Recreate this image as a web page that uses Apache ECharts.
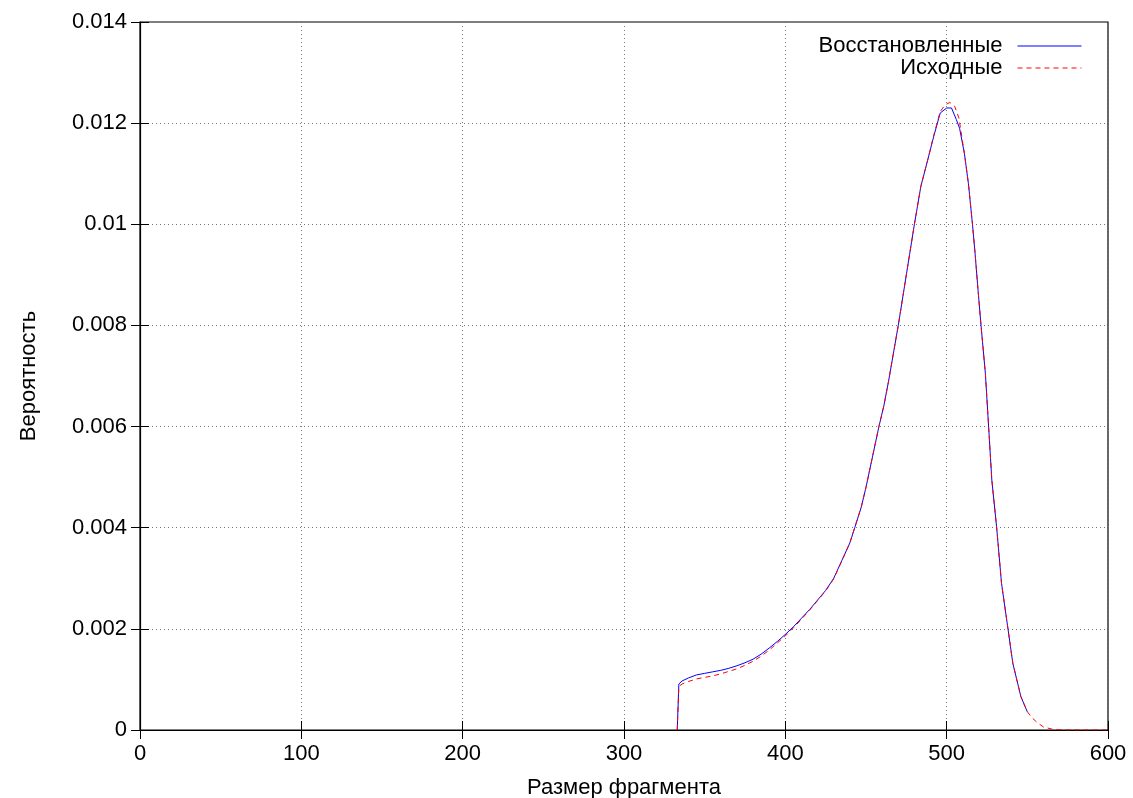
<!DOCTYPE html>
<html><head><meta charset="utf-8">
<script src="https://cdn.jsdelivr.net/npm/echarts@6/dist/echarts.min.js"></script>
<style>html,body{margin:0;padding:0;background:#fff}#c{width:1133px;height:798px}</style>
</head><body><div id="c"></div>
<script>
var seriesNames = ['Восстановленные', 'Исходные'];
var restoredX = [333,334,336,340,345,350,355,360,365,370,375,380,385,390,395,400,405,410,415,420,425,430,435,440,443,447,450,454,458,461,464,467,470,473,477,480,484,488,492,496,500,503,506,508,511,513.5,516,517.6,519.6,521.3,524,526,528,531,534,538,541,546,550];
var restoredY = [0,0.00091,0.00097,0.00103,0.00109,0.00112,0.00115,0.00118,0.00122,0.00127,0.00133,0.00140,0.00150,0.00162,0.00175,0.00189,0.00204,0.00221,0.00238,0.00257,0.00276,0.00300,0.00335,0.0037,0.0040,0.0044,0.0048,0.0054,0.0060,0.0064,0.0069,0.00745,0.0080,0.0086,0.0094,0.0100,0.01075,0.01124,0.01174,0.0122,0.0123,0.0123,0.01207,0.0119,0.0114,0.0108,0.0100,0.00943,0.00864,0.0080,0.00705,0.0060,0.00494,0.0040,0.0029,0.0020,0.00132,0.00066,0.00036];
var originalX = [333,334,336,340,345,350,355,360,365,370,375,380,385,390,395,400,405,410,415,420,425,430,435,440,443,447,450,454,458,461,464,467,470,473,477,480,484,488,492,496,499,502,505,507.6,511,513.5,516,517.6,519.6,521.3,524,526,528,531,534,538,541,546,550,553,556,560,565,570,575,600];
var originalY = [0,0.00086,0.00091,0.00096,0.00101,0.00104,0.00107,0.00111,0.00116,0.00121,0.00128,0.00136,0.00146,0.00158,0.00172,0.00186,0.00202,0.00219,0.00237,0.00256,0.00275,0.00299,0.00334,0.0037,0.0040,0.0044,0.0048,0.0054,0.0060,0.0064,0.0069,0.00745,0.0080,0.0086,0.0094,0.0100,0.01075,0.01124,0.01176,0.01223,0.01236,0.01241,0.01233,0.0121,0.0114,0.0108,0.0100,0.00943,0.00864,0.0080,0.00705,0.0060,0.00494,0.0040,0.0029,0.0020,0.00132,0.00066,0.00036,0.00024,0.00015,0.00006,0.00002,0.000005,0,0];
var xName = 'Размер фрагмента';
var yName = 'Вероятность';

function pairs(xs, ys){ return xs.map(function(x,i){ return [x, ys[i]]; }); }
var FONT = 'Liberation Sans';
var fs = 22;
var chart = echarts.init(document.getElementById('c'), null, {renderer:'canvas'});
var gridLine = {show:true, lineStyle:{color:'#777', type:[1,3], width:1}};
var tick = {show:true, inside:true, length:9, lineStyle:{color:'#000'}};
chart.setOption({
  animation:false,
  textStyle:{fontFamily:FONT},
  grid:{left:140, top:22, right:25, bottom:68, containLabel:false, outerBoundsMode:'none',
    show:true, borderColor:'#000', borderWidth:1.2, backgroundColor:'transparent'},
  legend:{
    show:true, data:seriesNames, orient:'vertical',
    left:'auto', right:51, top:35, bottom:'auto',
    align:'right', padding:0,
    itemWidth:64, itemHeight:12, itemGap:0,
    itemStyle:{opacity:0},
    lineStyle:{width:1},
    textStyle:{fontFamily:FONT, fontSize:fs, color:'#000', lineHeight:22, padding:[0,10,0,0]}
  },
  xAxis:[{
    type:'value', min:0, max:600, interval:100,
    name:xName, nameLocation:'middle', nameGap:47,
    nameTextStyle:{fontFamily:FONT, fontSize:fs, color:'#000'},
    axisLine:{show:true, onZero:false, lineStyle:{color:'#000', width:1.2}},
    axisTick:tick, splitLine:gridLine,
    axisLabel:{fontFamily:FONT, fontSize:fs, color:'#000', margin:13}
  },{
    type:'value', min:0, max:600, interval:100, position:'top',
    axisLine:{show:false}, axisTick:tick, axisLabel:{show:false}, splitLine:{show:false}
  }],
  yAxis:[{
    type:'value', min:0, max:0.014, interval:0.002,
    name:yName, nameLocation:'middle', nameGap:100, nameRotate:90,
    nameTextStyle:{fontFamily:FONT, fontSize:fs, color:'#000'},
    axisLine:{show:true, onZero:false, lineStyle:{color:'#000', width:1.2}},
    axisTick:tick, splitLine:gridLine,
    axisLabel:{fontFamily:FONT, fontSize:fs, color:'#000', margin:13,
      formatter:function(v){ return String(+v.toFixed(6)); }}
  },{
    type:'value', min:0, max:0.014, interval:0.002, position:'right',
    axisLine:{show:false}, axisTick:tick, axisLabel:{show:false}, splitLine:{show:false}
  }],
  series:[{
    name:seriesNames[0], type:'line', data:pairs(restoredX, restoredY),
    symbol:'none', showSymbol:false, smooth:false, z:3,
    lineStyle:{color:'#0000ff', width:1}, itemStyle:{color:'#0000ff'}
  },{
    name:seriesNames[1], type:'line', data:pairs(originalX, originalY),
    symbol:'none', showSymbol:false, smooth:false, z:4,
    lineStyle:{color:'#ff0000', width:1, type:[5,4]}, itemStyle:{color:'#ff0000'}
  }]
});
</script></body></html>
